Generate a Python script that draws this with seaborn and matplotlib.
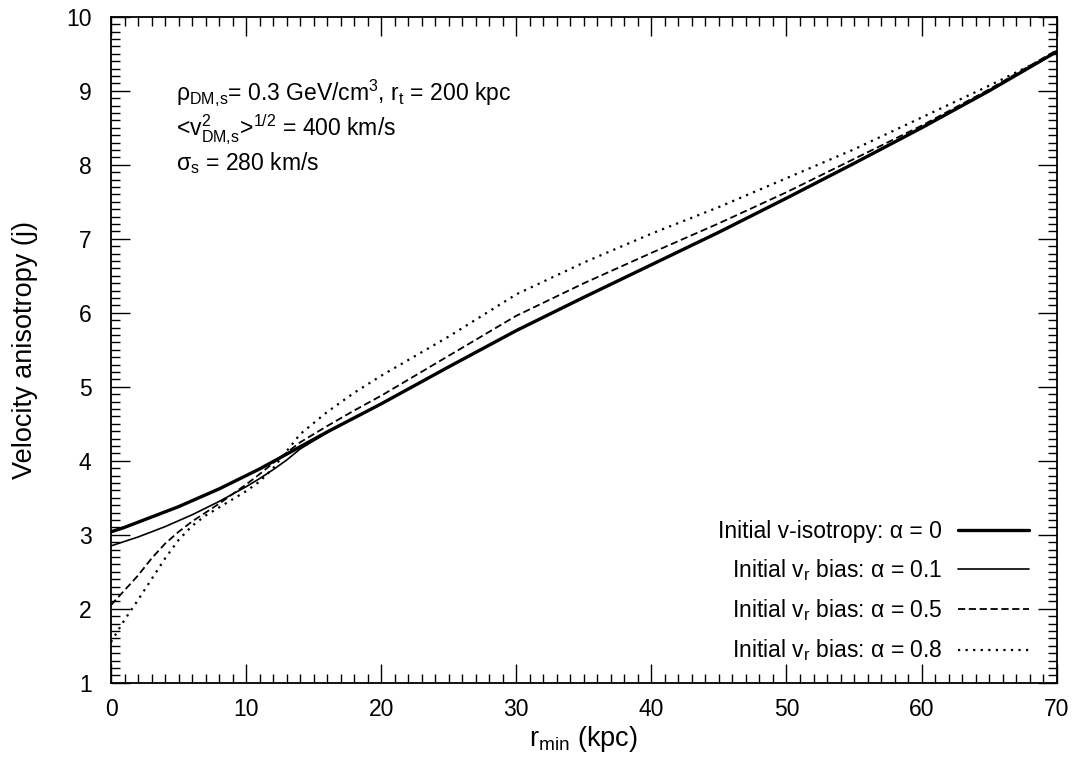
import numpy as np
import pandas as pd
import seaborn as sns
import matplotlib.pyplot as plt
from matplotlib.ticker import MultipleLocator

# r_min grid (kpc) and anisotropy j
r_min = [0, 0.5, 1, 2, 3, 4, 5, 6, 7, 8, 9, 10, 11, 12, 13, 14, 16, 18, 20,
         25, 30, 35, 40, 45, 50, 55, 60, 65, 70]
j_alpha0 = [3.04, 3.07, 3.10, 3.17, 3.24, 3.31, 3.38, 3.46, 3.54, 3.62, 3.71, 3.80, 3.89, 3.99, 4.09, 4.19, 4.39, 4.58, 4.77,
            5.27, 5.76, 6.21, 6.65, 7.09, 7.55, 8.02, 8.50, 9.00, 9.53]
j_alpha01 = [2.85, 2.88, 2.91, 2.97, 3.04, 3.11, 3.19, 3.27, 3.36, 3.45, 3.55, 3.65, 3.76, 3.88, 4.01, 4.16, 4.38, 4.58, 4.77,
             5.27, 5.76, 6.21, 6.65, 7.09, 7.55, 8.02, 8.50, 9.00, 9.53]
j_alpha05 = [2.05, 2.15, 2.25, 2.45, 2.68, 2.88, 3.04, 3.18, 3.30, 3.42, 3.55, 3.68, 3.82, 3.97, 4.11, 4.25, 4.47, 4.68, 4.88,
             5.42, 5.96, 6.40, 6.81, 7.21, 7.63, 8.08, 8.53, 9.02, 9.55]
j_alpha08 = [1.55, 1.70, 1.85, 2.12, 2.40, 2.68, 2.93, 3.12, 3.26, 3.37, 3.48, 3.59, 3.72, 3.90, 4.13, 4.36, 4.66, 4.92, 5.15,
             5.68, 6.25, 6.68, 7.07, 7.43, 7.82, 8.21, 8.64, 9.07, 9.52]

labels = ["Initial v-isotropy: α = 0",
          "Initial v$_{\\rm r}$ bias: α = 0.1",
          "Initial v$_{\\rm r}$ bias: α = 0.5",
          "Initial v$_{\\rm r}$ bias: α = 0.8"]

sns.set_style("ticks")
plt.rcParams["font.family"] = ["Liberation Sans", "DejaVu Sans"]
plt.rcParams["mathtext.fontset"] = "custom"
plt.rcParams["mathtext.rm"] = "Liberation Sans"
plt.rcParams["mathtext.it"] = "Liberation Sans"
plt.rcParams["mathtext.bf"] = "Liberation Sans:bold"
# gnuplot look: pure black text and ticks
for k in ["text.color", "axes.labelcolor", "xtick.color", "ytick.color", "axes.edgecolor"]:
    plt.rcParams[k] = "black"

fs = 16.5

fig = plt.figure(figsize=(10.8, 7.68), dpi=100)
ax = fig.add_axes([0.1028, 0.111, 0.8756, 0.867])

styles = [
    dict(lw=2.4, ls="-"),
    dict(lw=1.2, ls="-"),
    dict(lw=1.3, ls=(0, (4, 2))),
    dict(lw=1.6, ls=(0, (1, 2.4))),
]
series = [j_alpha0, j_alpha01, j_alpha05, j_alpha08]
for vals, lab, st in zip(series, labels, styles):
    df = pd.DataFrame({"r_min": r_min, "j": vals})
    sns.lineplot(data=df, x="r_min", y="j", ax=ax, color="black",
                 linewidth=st["lw"], linestyle=st["ls"], label=lab)

ax.set_xlim(0, 70)
ax.set_ylim(1, 10)
ax.xaxis.set_major_locator(MultipleLocator(10))
ax.xaxis.set_minor_locator(MultipleLocator(1))
ax.yaxis.set_major_locator(MultipleLocator(1))
ax.yaxis.set_minor_locator(MultipleLocator(0.1))
ax.tick_params(which="both", direction="in", top=True, right=True, color="black", width=1)
ax.tick_params(which="major", length=13.5, labelsize=fs)
ax.tick_params(axis="x", which="major", pad=11)
ax.tick_params(axis="y", which="major", pad=14)
ax.tick_params(which="minor", length=6.5)
for sp in ax.spines.values():
    sp.set_linewidth(1.3)
    sp.set_color("black")

ax.set_xlabel("r$_{\\rm min}$ (kpc)", fontsize=19.5, labelpad=2)
ax.set_ylabel("Velocity anisotropy (j)", fontsize=19.5, labelpad=20)

ax.text(0.069, 0.875, "ρ$_{\\rm DM,\\!s}$= 0.3 GeV/cm$^{3}$, r$_{\\rm t}$ = 200 kpc",
        transform=ax.transAxes, fontsize=fs, va="baseline")
ax.text(0.069, 0.820, "<v$_{\\rm DM,\\!s}^{2}$>$^{1/2}$ = 400 km/s",
        transform=ax.transAxes, fontsize=fs, va="baseline")
ax.text(0.069, 0.770, "σ$_{\\rm s}$ = 280 km/s",
        transform=ax.transAxes, fontsize=fs, va="baseline")

ax.legend(loc="lower right", bbox_to_anchor=(0.971, 0.029), frameon=False,
          markerfirst=False, fontsize=fs, handlelength=3.1, handletextpad=0.7,
          labelspacing=0.62, borderaxespad=0, borderpad=0)

fig.savefig("out.png", dpi=100)
